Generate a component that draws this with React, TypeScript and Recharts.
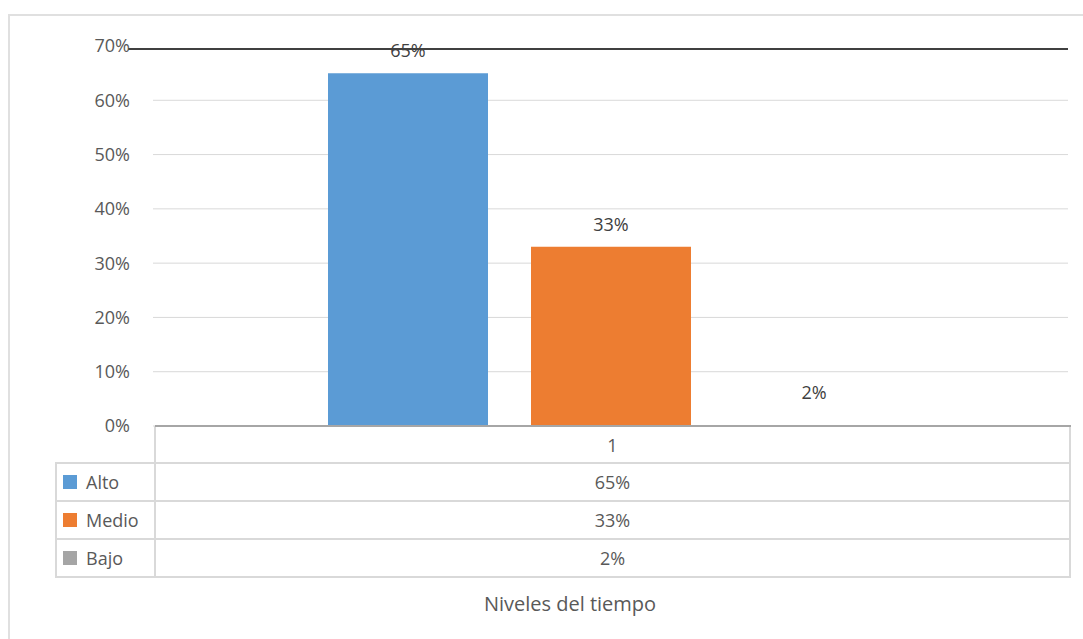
import React from "react";
import { BarChart, Bar, XAxis, YAxis, CartesianGrid, ReferenceLine, LabelList } from "recharts";

const categories = ["1"];
const seriesNames = ["Alto", "Medio", "Bajo"];
const altoValues = [0.65];
const medioValues = [0.33];
const bajoValues = [0.02];
const yTicks = [0, 0.1, 0.2, 0.3, 0.4, 0.5, 0.6, 0.7];
const seriesColors = ["#5b9bd5", "#ed7d31", "#a5a5a5"];
const axisTitle = "Niveles del tiempo";

const seriesValues = [altoValues, medioValues, bajoValues];
const data = categories.map((c, i) => ({
  cat: c,
  Alto: altoValues[i],
  Medio: medioValues[i],
  Bajo: bajoValues[i],
}));
const gridValues = yTicks.slice(0, -1);

const FONT = "'Open Sans', 'Noto Sans', sans-serif";
const pct = (v: number) => `${Math.round(v * 100)}%`;

const W = 1083;
const H = 639;
const PLOT_L = 155;
const PLOT_R = 1070;
const PLOT_T = 46;
const PLOT_B = 426;
const ROW_BOUNDS = [426, 463, 501, 539, 577];
const TABLE_L = 56;
const GRID = "#d9d9d9";

const TopLine = (p: any) => (
  <line x1={p.x1 - 25} y1={p.y1 + 3} x2={p.x2} y2={p.y2 + 3} stroke="#404040" strokeWidth={2} />
);

function DataTable() {
  const cx = (PLOT_L + PLOT_R) / 2;
  return (
    <svg width={W} height={H} style={{ position: "absolute", left: 0, top: 0, pointerEvents: "none" }}>
      <line x1={PLOT_L} y1={ROW_BOUNDS[0]} x2={PLOT_L} y2={ROW_BOUNDS[4] + 1} stroke={GRID} strokeWidth={2} />
      <line x1={PLOT_R} y1={ROW_BOUNDS[0]} x2={PLOT_R} y2={ROW_BOUNDS[4] + 1} stroke={GRID} strokeWidth={2} />
      <line x1={TABLE_L} y1={ROW_BOUNDS[1]} x2={TABLE_L} y2={ROW_BOUNDS[4] + 1} stroke={GRID} strokeWidth={2} />
      {ROW_BOUNDS.slice(1).map((y, i) => (
        <line key={i} x1={TABLE_L - 1} y1={y} x2={PLOT_R + 1} y2={y} stroke={GRID} strokeWidth={2} />
      ))}
      <line x1={PLOT_L} y1={PLOT_B} x2={PLOT_R + 1} y2={PLOT_B} stroke="#a6a6a6" strokeWidth={2} />
      {categories.map((c, i) => (
        <text key={i} x={cx} y={(ROW_BOUNDS[0] + ROW_BOUNDS[1]) / 2} textAnchor="middle" dominantBaseline="central"
          fontFamily={FONT} fontSize={18} fill="#595959">{c}</text>
      ))}
      {seriesNames.map((name, r) => {
        const yc = (ROW_BOUNDS[r + 1] + ROW_BOUNDS[r + 2]) / 2;
        return (
          <g key={name}>
            <rect x={63} y={yc - 7} width={14} height={14} fill={seriesColors[r]} />
            <text x={86} y={yc} dominantBaseline="central" fontFamily={FONT} fontSize={18} fill="#595959">{name}</text>
            <text x={cx} y={yc} textAnchor="middle" dominantBaseline="central" fontFamily={FONT} fontSize={18} fill="#595959">
              {pct(seriesValues[r][0])}
            </text>
          </g>
        );
      })}
      <text x={570} y={603} textAnchor="middle" dominantBaseline="central" fontFamily={FONT} fontSize={20} fill="#595959">
        {axisTitle}
      </text>
    </svg>
  );
}

export default function App() {
  return (
    <div style={{ position: "absolute", left: 0, top: 0, width: W, height: H, overflow: "hidden", background: "#fff" }}>
      <div style={{ position: "absolute", left: 8, top: 14, width: 1200, height: 800, borderLeft: "2px solid #e0e0e0", borderTop: "2px solid #e0e0e0" }} />
      <div style={{ position: "absolute", left: 0, top: 0 }}>
        <BarChart width={W} height={H} data={data} margin={{ top: PLOT_T, right: W - PLOT_R + 2, bottom: H - PLOT_B, left: PLOT_L - 100 - 2 }}
          barSize={160} barGap={43}>
          <CartesianGrid vertical={false} stroke={GRID} horizontalValues={gridValues} />
          <XAxis dataKey="cat" hide />
          <YAxis width={100} domain={[0, 0.7]} ticks={yTicks} tickFormatter={pct} axisLine={false} tickLine={false}
            tickSize={18} tickMargin={5} tick={{ fill: "#595959", fontSize: 18, fontFamily: FONT }} />
          <Bar dataKey="Alto" fill={seriesColors[0]} isAnimationActive={false}>
            <LabelList dataKey="Alto" position="top" offset={16} formatter={(v: any) => pct(Number(v))}
              fill="#404040" style={{ fontSize: 18, fontFamily: FONT }} />
          </Bar>
          <Bar dataKey="Medio" fill={seriesColors[1]} isAnimationActive={false}>
            <LabelList dataKey="Medio" position="top" offset={16} formatter={(v: any) => pct(Number(v))}
              fill="#404040" style={{ fontSize: 18, fontFamily: FONT }} />
          </Bar>
          <Bar dataKey="Bajo" fill={seriesColors[2]} fillOpacity={0} isAnimationActive={false}>
            <LabelList dataKey="Bajo" position="top" offset={16} formatter={(v: any) => pct(Number(v))}
              fill="#404040" style={{ fontSize: 18, fontFamily: FONT }} />
          </Bar>
          <ReferenceLine y={0.7} shape={TopLine} />
        </BarChart>
      </div>
      <DataTable />
    </div>
  );
}
